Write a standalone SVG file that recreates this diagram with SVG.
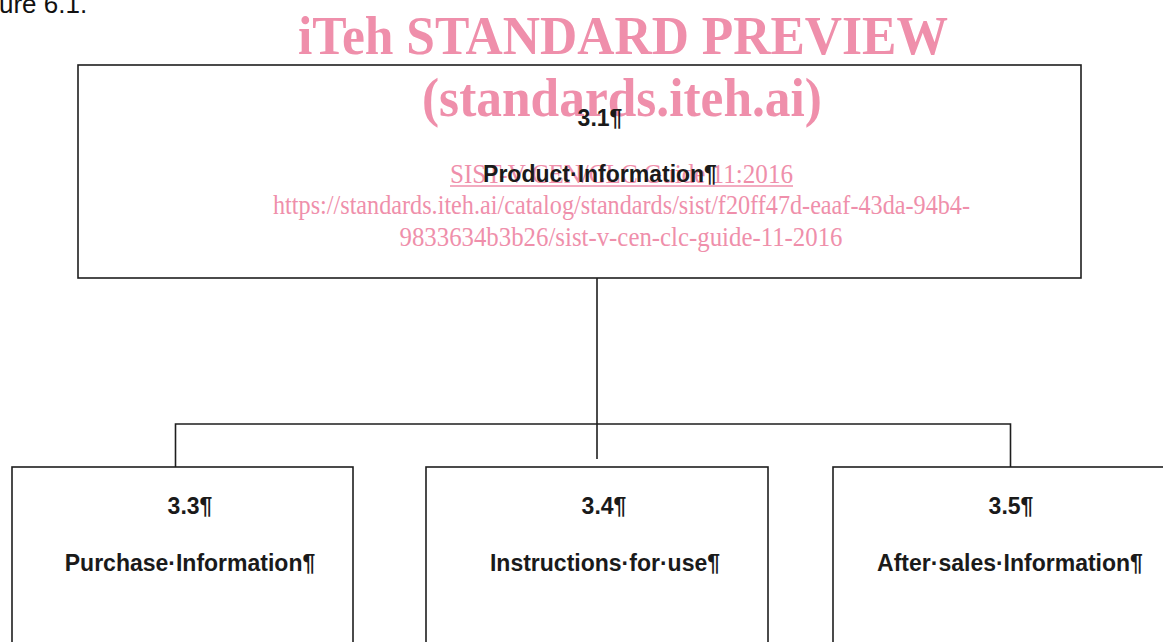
<svg xmlns="http://www.w3.org/2000/svg" width="1163" height="642" viewBox="0 0 1163 642">
  <style>
    .box { fill: none; stroke: #1e1e1e; stroke-width: 1.6; }
    .wire { fill: none; stroke: #1e1e1e; stroke-width: 1.6; }
    .lbl { font-family: "Liberation Sans", Arial, sans-serif; font-weight: bold; font-size: 23px; fill: #1a1a1a; text-anchor: middle; }
    .wm { font-family: "Liberation Serif", "Times New Roman", serif; fill: #ef8fab; text-anchor: middle; }
    .wm-big { font-weight: bold; font-size: 55px; }
    .wm-small { font-size: 27px; }
    .cap { font-family: "Liberation Sans", Arial, sans-serif; font-size: 26px; fill: #111; }
  </style>
  <rect width="1163" height="642" fill="#ffffff"/>

  <!-- caption line, clipped by the page top -->
  <text class="cap" x="-1" y="13">ure 6.1.</text>

  <!-- preview watermark -->
  <g id="watermark">
    <text class="wm wm-big" x="623" y="54" textLength="650" lengthAdjust="spacingAndGlyphs">iTeh STANDARD PREVIEW</text>
    <text class="wm wm-big" x="622" y="116" textLength="400" lengthAdjust="spacingAndGlyphs">(standards.iteh.ai)</text>
    <text class="wm wm-small" x="621.5" y="183" textLength="343" lengthAdjust="spacingAndGlyphs">SIST-V CEN/CLC Guide 11:2016</text>
    <line x1="450" y1="186" x2="793" y2="186" stroke="#ef8fab" stroke-width="1.4"/>
    <text class="wm wm-small" x="621.5" y="214" textLength="697" lengthAdjust="spacingAndGlyphs">https://standards.iteh.ai/catalog/standards/sist/f20ff47d-eaaf-43da-94b4-</text>
    <text class="wm wm-small" x="621" y="246" textLength="443" lengthAdjust="spacingAndGlyphs">9833634b3b26/sist-v-cen-clc-guide-11-2016</text>
  </g>

  <!-- connectors -->
  <g id="connectors">
    <path class="wire" d="M597 278 V459"/>
    <path class="wire" d="M175.5 467 V424 H1010.5 V467"/>
  </g>

  <g id="node-3-1">
    <rect class="box" x="78" y="65" width="1003" height="213"/>
    <text class="lbl" x="600" y="126">3.1¶</text>
    <text class="lbl" x="600" y="182">Product·Information¶</text>
  </g>

  <g id="node-3-3">
    <rect class="box" x="12" y="467" width="341" height="190"/>
    <text class="lbl" x="190" y="514">3.3¶</text>
    <text class="lbl" x="190" y="571">Purchase·Information¶</text>
  </g>

  <g id="node-3-4">
    <rect class="box" x="426" y="467" width="342" height="190"/>
    <text class="lbl" x="604" y="514">3.4¶</text>
    <text class="lbl" x="605" y="571">Instructions·for·use¶</text>
  </g>

  <g id="node-3-5">
    <rect class="box" x="833" y="467" width="360" height="190"/>
    <text class="lbl" x="1011" y="514">3.5¶</text>
    <text class="lbl" x="1010" y="571">After·sales·Information¶</text>
  </g>
</svg>
